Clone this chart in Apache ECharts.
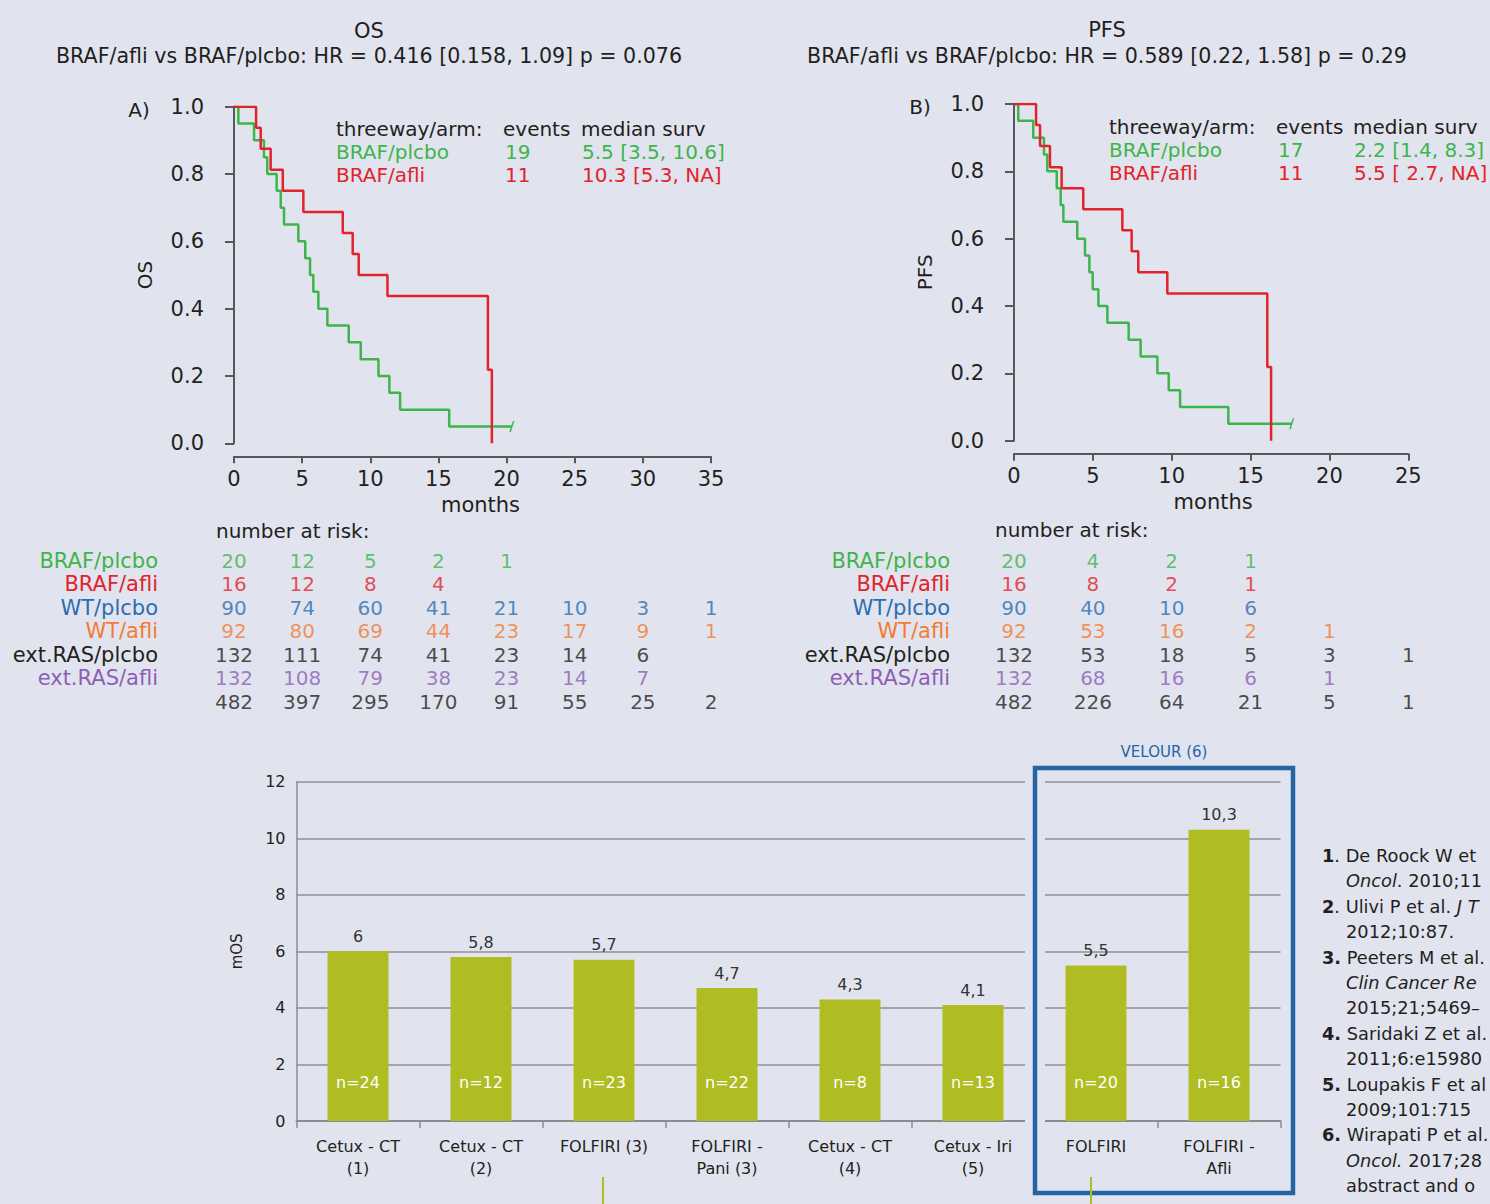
<!DOCTYPE html>
<html><head><meta charset="utf-8">
<script src="https://cdn.jsdelivr.net/npm/echarts@6/dist/echarts.min.js"></script>
<style>html,body{margin:0;padding:0;background:#e1e4ee;}#c{width:1490px;height:1204px;}</style>
</head><body><div id="c"></div>
<script>
// ---------- DATA ----------
// Kaplan-Meier steps (time in months, survival after each drop)
const osGreenT = [0, 0.32, 1.47, 2.2, 2.44, 3.13, 3.43, 3.67, 4.72, 5.23, 5.58, 5.82, 6.19, 6.85, 8.42, 9.3, 10.6, 11.4, 12.19, 15.79, 20.39];
const osGreenS = [1, 0.95, 0.90, 0.85, 0.80, 0.75, 0.70, 0.65, 0.60, 0.55, 0.50, 0.45, 0.40, 0.35, 0.30, 0.25, 0.20, 0.15, 0.10, 0.05, 0.05];
const osRedT = [0, 1.62, 1.96, 2.69, 3.58, 5.09, 7.98, 8.71, 9.15, 11.26, 18.63, 18.92];
const osRedS = [1, 0.9375, 0.875, 0.8125, 0.75, 0.6875, 0.625, 0.5625, 0.5, 0.4375, 0.21875, 0];
const pfsGreenT = [0, 0.27, 1.22, 1.90, 2.11, 2.71, 2.96, 3.13, 4.01, 4.50, 4.78, 4.99, 5.35, 5.92, 7.27, 8.03, 9.09, 9.81, 10.53, 13.59, 17.61];
const pfsGreenS = [1, 0.95, 0.90, 0.85, 0.80, 0.75, 0.70, 0.65, 0.60, 0.55, 0.50, 0.45, 0.40, 0.35, 0.30, 0.25, 0.20, 0.15, 0.10, 0.05, 0.05];
const pfsRedT = [0, 1.40, 1.65, 2.28, 3.02, 4.39, 6.87, 7.46, 7.88, 9.72, 16.06, 16.30];
const pfsRedS = [1, 0.9375, 0.875, 0.8125, 0.75, 0.6875, 0.625, 0.5625, 0.5, 0.4375, 0.21875, 0];

const legendArms = ['BRAF/plcbo', 'BRAF/afli'];
const osEvents = [19, 11];
const osMedian = ['5.5 [3.5, 10.6]', '10.3 [5.3, NA]'];
const pfsEvents = [17, 11];
const pfsMedian = ['2.2 [1.4, 8.3]', '5.5 [ 2.7, NA]'];

const riskRows = ['BRAF/plcbo', 'BRAF/afli', 'WT/plcbo', 'WT/afli', 'ext.RAS/plcbo', 'ext.RAS/afli', ''];
const osRiskTimes = [0, 5, 10, 15, 20, 25, 30, 35];
const osRisk = [
  [20, 12, 5, 2, 1],
  [16, 12, 8, 4],
  [90, 74, 60, 41, 21, 10, 3, 1],
  [92, 80, 69, 44, 23, 17, 9, 1],
  [132, 111, 74, 41, 23, 14, 6],
  [132, 108, 79, 38, 23, 14, 7],
  [482, 397, 295, 170, 91, 55, 25, 2]
];
const pfsRiskTimes = [0, 5, 10, 15, 20, 25];
const pfsRisk = [
  [20, 4, 2, 1],
  [16, 8, 2, 1],
  [90, 40, 10, 6],
  [92, 53, 16, 2, 1],
  [132, 53, 18, 5, 3, 1],
  [132, 68, 16, 6, 1],
  [482, 226, 64, 21, 5, 1]
];

const barCats = ['Cetux - CT\n(1)', 'Cetux - CT\n(2)', 'FOLFIRI (3)', 'FOLFIRI -\nPani (3)', 'Cetux - CT\n(4)', 'Cetux - Iri\n(5)', 'FOLFIRI', 'FOLFIRI -\nAfli'];
const barValues = [6, 5.8, 5.7, 4.7, 4.3, 4.1, 5.5, 10.3];
const barN = [24, 12, 23, 22, 8, 13, 20, 16];

// reference list as visible in the figure (cut by the page edge)
const references = [
  ['1', '. De Roock W et', '*Oncol*. 2010;11'],
  ['2', '. Ulivi P et al. *J T*', '2012;10:87.'],
  ['3.', ' Peeters M et al.', '*Clin Cancer Re*', '2015;21;5469–'],
  ['4.', ' Saridaki Z et al.', '2011;6:e15980'],
  ['5.', ' Loupakis F et al', '2009;101:715'],
  ['6.', ' Wirapati P et al.', '*Oncol.* 2017;28', 'abstract and o']
];

// ---------- STYLE ----------
const FONT = 'DejaVu Sans';
const BG = '#e1e4ee';
const TXT = '#231f20';
const GREEN = '#3db54a', RED = '#e2232b', BLUE = '#2a6db0', ORANGE = '#f47b33', PURPLE = '#8c5fb5';
const rowColors = [GREEN, RED, BLUE, ORANGE, TXT, PURPLE, TXT];
const AXIS = '#58585a';
const BAR = '#afbd22';
const BOX = '#2565a3';
const CENSOR = 'path://M3.4,0 L4.8,0 L1.4,10 L0,10 Z';

function km(T, S, censor) {
  const d = T.map((t, i) => [t, S[i]]);
  if (censor) {
    const last = d.pop();
    d.push({ value: last, symbol: CENSOR, symbolSize: [5, 11] });
  }
  return d;
}
function riskData(times, rows) {
  const out = [];
  rows.forEach((r, i) => r.forEach((v, j) => out.push({ value: [times[j], riskRows[i], v], label: { color: rowColors[i] } })));
  return out;
}

const chart = echarts.init(document.getElementById('c'), null, { renderer: 'svg' });

function kmAxes(gi, max, name, namePad) {
  return {
    x: {
      gridIndex: gi, type: 'value', min: 0, max: max, interval: 5, offset: 13,
      name: 'months', nameLocation: 'middle', nameGap: 38,
      nameTextStyle: { fontFamily: FONT, fontSize: 21, color: TXT, padding: namePad },
      axisLine: { show: true, onZero: false, lineStyle: { color: AXIS, width: 2 } },
      axisTick: { show: true, length: 7, lineStyle: { color: AXIS, width: 2 } },
      axisLabel: { fontFamily: FONT, fontSize: 21, color: TXT, margin: 12 },
      splitLine: { show: false }
    },
    y: {
      gridIndex: gi, type: 'value', min: 0, max: 1, interval: 0.2, offset: 17,
      name: name, nameLocation: 'middle', nameGap: 62, nameRotate: 90,
      nameTextStyle: { fontFamily: FONT, fontSize: 20, color: TXT },
      axisLine: { show: true, lineStyle: { color: AXIS, width: 2 } },
      axisTick: { show: true, length: 9, lineStyle: { color: AXIS, width: 2 } },
      axisLabel: { fontFamily: FONT, fontSize: 21, color: TXT, margin: 13, formatter: v => v.toFixed(1) },
      splitLine: { show: false }
    }
  };
}
function riskAxes(gi, max, labelMargin) {
  const rich = {};
  rowColors.forEach((c, i) => { rich['r' + i] = { color: c, fontFamily: FONT, fontSize: 21 }; });
  return {
    x: { gridIndex: gi, type: 'value', min: 0, max: max, show: false },
    y: {
      gridIndex: gi, type: 'category', data: riskRows, inverse: true,
      axisLine: { show: false }, axisTick: { show: false }, splitLine: { show: false },
      axisLabel: { margin: labelMargin, formatter: (v, i) => '{r' + i + '|' + v + '}', rich: rich }
    }
  };
}

const osA = kmAxes(0, 35, 'OS', [0, 0, 0, 16]), osR = riskAxes(1, 35, 76);
const pfsA = kmAxes(2, 25, 'PFS', [0, 0, 0, 4]), pfsR = riskAxes(3, 25, 64);

function kmLegend(x0, xE, xM, y0, events, medians) {
  const els = [];
  const st = (t, x, y, c) => ({ type: 'text', x: x, y: y, z: 20, style: { text: t, fill: c, fontFamily: FONT, fontSize: 20, align: 'left', verticalAlign: 'middle' } });
  els.push(st('threeway/arm:', x0, y0, TXT), st('events', xE, y0, TXT), st('median surv', xM, y0, TXT));
  legendArms.forEach((a, i) => {
    const c = i === 0 ? GREEN : RED;
    const y = y0 + 23 * (i + 1);
    els.push(st(a, x0, y, c), st(String(events[i]), xE + 2, y, c), st(medians[i], xM + 1, y, c));
  });
  return els;
}

const graphics = [];
const T = (t, x, y, o) => Object.assign({ type: 'text', x: x, y: y, z: 20, style: Object.assign({ text: t, fill: TXT, fontFamily: FONT, fontSize: 20, align: 'center', verticalAlign: 'middle' }, o || {}) });
graphics.push(T('OS', 369, 31, { fontSize: 21 }));
graphics.push(T('BRAF/afli vs BRAF/plcbo: HR = 0.416 [0.158, 1.09] p = 0.076', 369, 56, { fontSize: 20.6 }));
graphics.push(T('PFS', 1107, 30, { fontSize: 21 }));
graphics.push(T('BRAF/afli vs BRAF/plcbo: HR = 0.589 [0.22, 1.58] p = 0.29', 1107, 56, { fontSize: 20.6 }));
graphics.push(T('A)', 139, 110, { fontSize: 20 }));
graphics.push(T('B)', 920, 107, { fontSize: 20 }));
graphics.push(T('number at risk:', 216, 531, { align: 'left' }));
graphics.push(T('number at risk:', 995, 530, { align: 'left' }));
kmLegend(336, 503, 581, 129, osEvents, osMedian).forEach(e => graphics.push(e));
kmLegend(1109, 1276, 1353, 127, pfsEvents, pfsMedian).forEach(e => graphics.push(e));

// VELOUR box
graphics.push({ type: 'rect', z: 1, shape: { x: 1035, y: 768, width: 258, height: 425 }, style: { fill: 'none', stroke: BG, lineWidth: 20 } });
graphics.push({ type: 'rect', z: 30, shape: { x: 1035, y: 768, width: 258, height: 425 }, style: { fill: 'none', stroke: BOX, lineWidth: 4.5 } });
graphics.push(T('VELOUR (6)', 1164, 752, { fontSize: 15, fill: BOX }));
graphics.push({ type: 'line', z: 31, shape: { x1: 603, y1: 1177, x2: 603, y2: 1204 }, style: { stroke: BAR, lineWidth: 2 } });
graphics.push({ type: 'line', z: 31, shape: { x1: 1091, y1: 1177, x2: 1091, y2: 1204 }, style: { stroke: BAR, lineWidth: 2 } });

// references
const RF = 17.8;
const refRich = { b: { fontWeight: 'bold', fontFamily: FONT, fontSize: RF, color: TXT }, i: { fontStyle: 'italic', fontFamily: FONT, fontSize: RF, color: TXT }, n: { fontFamily: FONT, fontSize: RF, color: TXT } };
function toRich(s) {
  return s.split('*').map((p, k) => p === '' ? '' : (k % 2 ? '{i|' + p + '}' : '{n|' + p + '}')).join('');
}
let ly = 855.5;
references.forEach(r => {
  graphics.push({ type: 'text', x: 1322, y: ly, z: 20, style: { text: '{b|' + r[0] + '}' + toRich(r[1]), rich: refRich, fontFamily: FONT, fontSize: RF, fill: TXT, align: 'left', verticalAlign: 'middle' } });
  ly += 25.4;
  for (let k = 2; k < r.length; k++) {
    graphics.push({ type: 'text', x: 1346, y: ly, z: 20, style: { text: toRich(r[k]), rich: refRich, fontFamily: FONT, fontSize: RF, fill: TXT, align: 'left', verticalAlign: 'middle' } });
    ly += 25.4;
  }
});

const kmLine = (xi, T_, S_, c, censor, z) => ({
  type: 'line', xAxisIndex: xi, yAxisIndex: xi, step: 'end', data: km(T_, S_, censor),
  symbol: 'none', showSymbol: true, z: z,
  lineStyle: { color: c, width: 2.5 }, itemStyle: { color: c }
});
const riskSeries = (xi, times, rows) => ({
  type: 'scatter', xAxisIndex: xi, yAxisIndex: xi, symbolSize: 0, data: riskData(times, rows),
  label: { show: true, position: 'inside', fontFamily: FONT, fontSize: 20, formatter: p => p.value[2] }
});

const option = {
  backgroundColor: BG,
  animation: false,
  textStyle: { fontFamily: FONT },
  grid: [
    { left: 234, top: 106.7, width: 477, height: 336.6 },
    { left: 234, top: 549, width: 477, height: 164.5 },
    { left: 1014, top: 104, width: 394.3, height: 336.7 },
    { left: 1014, top: 549, width: 394.3, height: 164.5 },
    { left: 296.5, top: 781.7, width: 984, height: 339.3 }
  ],
  xAxis: [osA.x, osR.x, pfsA.x, pfsR.x, {
    gridIndex: 4, type: 'category', data: barCats,
    axisLine: { lineStyle: { color: '#8c8c90', width: 2 } },
    axisTick: { show: true, length: 7, lineStyle: { color: '#8c8c90', width: 1.5 } },
    axisLabel: { interval: 0, fontFamily: FONT, fontSize: 16, color: TXT, lineHeight: 22, margin: 14 }
  }],
  yAxis: [osA.y, osR.y, pfsA.y, pfsR.y, {
    gridIndex: 4, type: 'value', min: 0, max: 12, interval: 2,
    name: 'mOS', nameLocation: 'middle', nameGap: 52, nameRotate: 90,
    nameTextStyle: { fontFamily: FONT, fontSize: 15, color: TXT },
    axisLine: { show: true, lineStyle: { color: '#8c8c90', width: 1.5 } },
    axisTick: { show: false },
    axisLabel: { fontFamily: FONT, fontSize: 16, color: TXT, margin: 11 },
    splitLine: { lineStyle: { color: '#a4a4aa', width: 2 } }
  }],
  series: [
    kmLine(0, osGreenT, osGreenS, GREEN, true, 3),
    kmLine(0, osRedT, osRedS, RED, false, 4),
    kmLine(2, pfsGreenT, pfsGreenS, GREEN, true, 3),
    kmLine(2, pfsRedT, pfsRedS, RED, false, 4),
    riskSeries(1, osRiskTimes, osRisk),
    riskSeries(3, pfsRiskTimes, pfsRisk),
    {
      type: 'bar', xAxisIndex: 4, yAxisIndex: 4, data: barValues, barWidth: 61, z: 5,
      itemStyle: { color: BAR },
      label: { show: true, position: 'top', distance: 7, fontFamily: FONT, fontSize: 16, color: '#333',
        formatter: p => String(p.value).replace('.', ',') }
    },
    {
      type: 'bar', xAxisIndex: 4, yAxisIndex: 4, data: barValues, barWidth: 61, barGap: '-100%', z: 6,
      itemStyle: { color: 'rgba(0,0,0,0)' },
      label: { show: true, position: 'insideBottom', distance: 31, fontFamily: FONT, fontSize: 16, color: '#ffffff',
        formatter: p => 'n=' + barN[p.dataIndex] }
    }
  ],
  graphic: { elements: graphics }
};
chart.setOption(option);
</script>
</body></html>
